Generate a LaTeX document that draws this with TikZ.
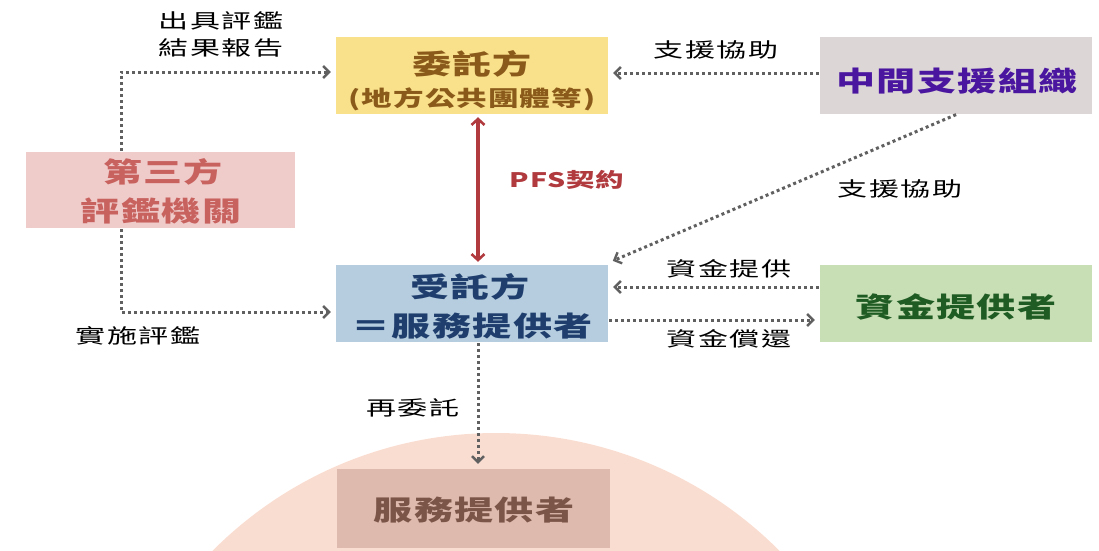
\documentclass[tikz,border=0pt]{standalone}
\usepackage{fontspec}
\usetikzlibrary{arrows.meta}
\newfontfamily\cjkbox{Noto Sans CJK TC}[FakeStretch=1.42,LetterSpace=5]
\newfontfamily\cjklab{Noto Sans CJK TC}[FakeStretch=1.5,LetterSpace=9]
\definecolor{cYel}{RGB}{249,224,138}
\definecolor{cGray}{RGB}{220,214,214}
\definecolor{cPink}{RGB}{239,203,202}
\definecolor{cBlue}{RGB}{181,205,222}
\definecolor{cGreen}{RGB}{200,222,181}
\definecolor{cLow}{RGB}{221,185,174}
\definecolor{cCirc}{RGB}{250,221,209}
\definecolor{tYel}{RGB}{138,90,26}
\definecolor{tPur}{RGB}{74,22,160}
\definecolor{tPink}{RGB}{200,98,95}
\definecolor{tBlue}{RGB}{31,62,110}
\definecolor{tGreen}{RGB}{30,92,35}
\definecolor{tLow}{RGB}{123,85,71}
\definecolor{cArr}{RGB}{96,96,96}
\definecolor{cRed}{RGB}{176,58,62}
\tikzset{
  box/.style={rectangle, inner sep=0pt, minimum width=272, minimum height=77},
  btext/.style={inner sep=0pt, font=\cjkbox\bfseries\fontsize{27.5}{32}\selectfont},
  dotarrow/.style={draw=cArr, line width=3pt, dash pattern=on 3pt off 3pt, -{Straight Barb[length=6pt,width=12pt,line width=2.4pt]}, shorten >=5pt, shorten <=1pt},
  lab/.style={font=\cjklab\fontsize{20}{27}\selectfont, text=black, align=center, inner sep=0pt}
}
\begin{document}
\begin{tikzpicture}[x=1pt,y=-1pt]
\useasboundingbox (0,0) rectangle (1099,550);
\begin{scope}
  \clip (0,0) rectangle (1099,550);
  \fill[cCirc] (496,833) circle (400pt);
\end{scope}

% boxes
\node[box, fill=cYel] (wt) at (472,75.5) {};
\node[box, fill=cGray] (mid) at (956,75.5) {};
\node[box, fill=cPink, minimum width=269, minimum height=76] (third) at (160.5,190) {};
\node[box, fill=cBlue] (st) at (472,303.5) {};
\node[box, fill=cGreen] (fund) at (956,303.5) {};
\node[box, fill=cLow, minimum width=273, minimum height=79] (sp) at (473.5,508.5) {};

% box texts
\node[btext, text=tYel] (wt1) at (472,64) {委託方};
\node[btext, text=tYel, font=\cjkbox\bfseries\fontsize{21.5}{26}\selectfont] (wt2) at (472,99) {(地方公共團體等)};
\node[btext, text=tPur] (mid1) at (957,81) {中間支援組織};
\node[btext, text=tPink] (th1) at (163,171.5) {第三方};
\node[btext, text=tPink] (th2) at (161,211) {評鑑機關};
\node[btext, text=tBlue] (st1) at (470,287) {受託方};
\node[btext, text=tBlue] (st2) at (472,326) {＝服務提供者};
\node[btext, text=tGreen] (fu1) at (956,307) {資金提供者};
\node[btext, text=tLow] (sp1) at (474,510) {服務提供者};

% connectors
\draw[dotarrow] ([xshift=-39.5pt]third.north) |- ([yshift=3.5pt]wt.west);
\draw[dotarrow] ([xshift=-39.5pt]third.south) |- ([yshift=-8.5pt]st.west);
\draw[dotarrow] ([yshift=2.5pt]mid.west) -- ([yshift=2.5pt]wt.east);
\draw[dotarrow] ([xshift=1pt]mid.south) -- ([xshift=0pt,yshift=2pt]st.north east);
\draw[dotarrow] ([yshift=16.5pt]fund.west) -- ([yshift=16.5pt]st.east);
\draw[dotarrow] ([yshift=-16.5pt]st.east) -- ([yshift=-16.5pt]fund.west);
\draw[dotarrow] ([xshift=6pt]st.south) -- ([xshift=4.5pt]sp.north);
\draw[draw=cRed, line width=3.2pt, {Straight Barb[length=6pt,width=13pt,line width=2.6pt]}-{Straight Barb[length=6pt,width=13pt,line width=2.6pt]}, shorten >=3pt, shorten <=3pt] ([xshift=6pt]wt.south) -- ([xshift=6pt]st.north);

% labels
\node[lab] (l1) at (221,34) {出具評鑑\\結果報告};
\node[lab] (l2) at (138,336) {實施評鑑};
\node[lab] (l3) at (716,50) {支援協助};
\node[lab] (l4) at (900,189) {支援協助};
\node[lab] (l5) at (729,269) {資金提供};
\node[lab] (l6) at (729,339) {資金償還};
\node[lab] (l7) at (413,408) {再委託};
\node[lab, font=\cjkbox\bfseries\fontsize{20}{26}\selectfont, text=cRed] (l8) at (567,180) {PFS契約};
\end{tikzpicture}
\end{document}
